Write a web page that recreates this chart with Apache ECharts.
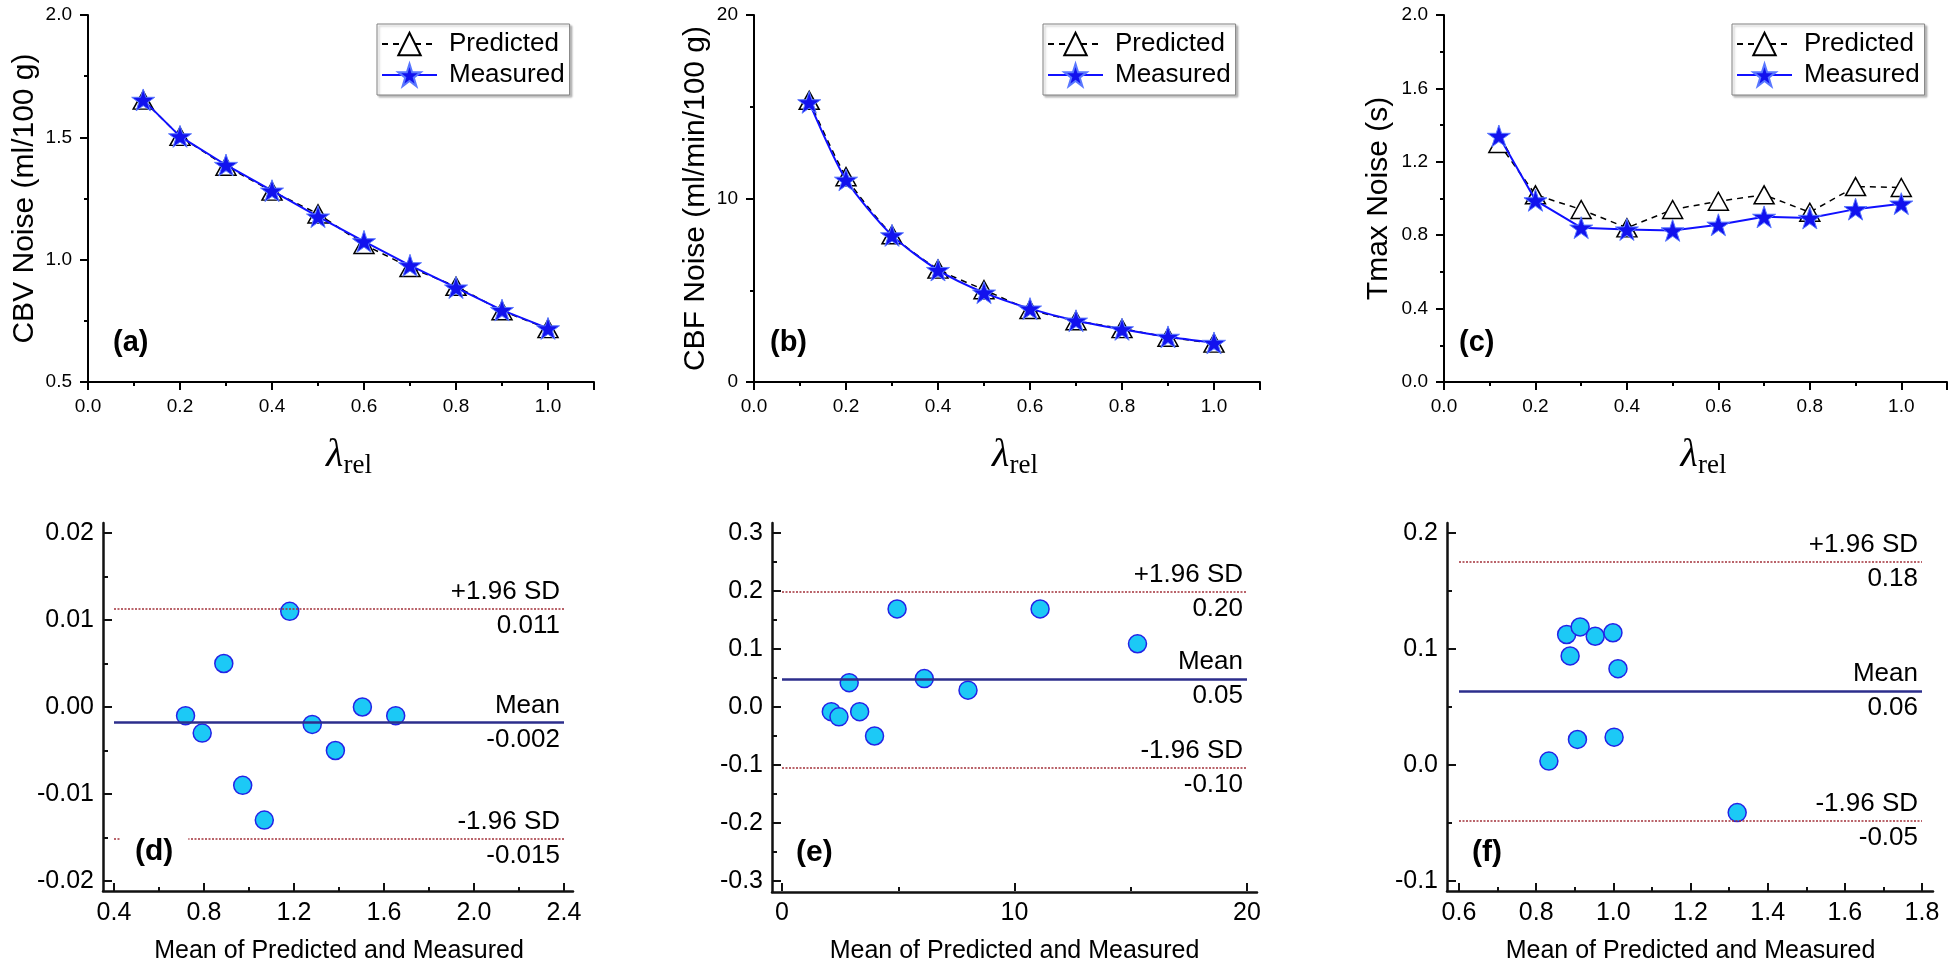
<!DOCTYPE html>
<html>
<head>
<meta charset="utf-8">
<title>Noise vs lambda_rel and Bland-Altman plots</title>
<script src="https://cdn.jsdelivr.net/npm/echarts@6.0.0/dist/echarts.min.js"></script>
<style>
  html, body { margin: 0; padding: 0; background: #fff; }
  #chart { width: 1950px; height: 969px; }
</style>
</head>
<body>
<div id="chart"></div>
<script>
/*--- data ---*/
var lambdaRel = [0.12, 0.2, 0.3, 0.4, 0.5, 0.6, 0.7, 0.8, 0.9, 1.0];

var cbvPredicted = [1.652, 1.504, 1.382, 1.280, 1.187, 1.062, 0.968, 0.891, 0.791, 0.718];
var cbvMeasured  = [1.653, 1.504, 1.387, 1.282, 1.176, 1.075, 0.977, 0.886, 0.794, 0.719];

var cbfPredicted = [15.35, 11.19, 8.02, 6.15, 5.03, 3.95, 3.34, 2.91, 2.44, 2.12];
var cbfMeasured  = [15.24, 11.02, 7.99, 6.10, 4.87, 4.00, 3.34, 2.87, 2.46, 2.13];

var tmaxPredicted = [1.30, 1.02, 0.94, 0.84, 0.94, 0.985, 1.02, 0.925, 1.065, 1.06];
var tmaxMeasured  = [1.341, 0.990, 0.841, 0.831, 0.826, 0.857, 0.900, 0.894, 0.942, 0.972];

// Bland-Altman: mean of predicted & measured vs difference
var cbvMean = [0.718, 0.792, 0.888, 0.972, 1.068, 1.181, 1.281, 1.384, 1.504, 1.652];
var cbvDiff = [-0.001, -0.003, 0.005, -0.009, -0.013, 0.011, -0.002, -0.005, 0.000, -0.001];
var cbvLimits = [0.0113, -0.0018, -0.0151];
var cbvLimitLabels = ['0.011', '-0.002', '-0.015'];

var cbfMean = [2.12, 2.45, 2.89, 3.34, 3.98, 4.95, 6.12, 8.0, 11.1, 15.29];
var cbfDiff = [-0.008, -0.017, 0.042, -0.008, -0.050, 0.169, 0.049, 0.029, 0.169, 0.109];
var cbfLimits = [0.198, 0.048, -0.1045];
var cbfLimitLabels = ['0.20', '0.05', '-0.10'];

var tmaxMean = [0.833, 0.879, 0.888, 0.907, 0.914, 0.953, 0.999, 1.002, 1.012, 1.321];
var tmaxDiff = [0.0034, 0.1125, 0.094, 0.022, 0.119, 0.111, 0.114, 0.024, 0.083, -0.041];
var tmaxLimits = [0.175, 0.064, -0.048];
var tmaxLimitLabels = ['0.18', '0.06', '-0.05'];

var limitNames = ['+1.96 SD', 'Mean', '-1.96 SD'];

/*--- styling ---*/
var font = 'Arial, "Liberation Sans", Helvetica, sans-serif';
var serif = '"Times New Roman", "Liberation Serif", serif';
var starPath = 'path://M50,0L61.2,34.5L97.6,34.5L68.2,55.9L79.4,90.5L50,69.1L20.6,90.5L31.8,55.9L2.4,34.5L38.8,34.5Z';

function pairs(xs, ys) {
	return xs.map(function (x, i) { return [x, ys[i]]; });
}
function fixed(d) {
	return function (v) { return v.toFixed(d); };
}

var topPanels = [
	{ left: 88, yMin: 0.5, yMax: 2.0, yStep: 0.5, digits: 1, yName: 'CBV Noise (ml/100 g)', nameGap: 48,
	  pred: cbvPredicted, meas: cbvMeasured, smooth: false, legendLeft: 377, tag: '(a)', tagLeft: 113 },
	{ left: 754, yMin: 0, yMax: 20, yStep: 10, digits: 0, yName: 'CBF Noise (ml/min/100 g)', nameGap: 43,
	  pred: cbfPredicted, meas: cbfMeasured, smooth: 0.25, legendLeft: 1043, tag: '(b)', tagLeft: 770 },
	{ left: 1444, yMin: 0, yMax: 2.0, yStep: 0.4, digits: 1, yName: 'Tmax Noise (s)', nameGap: 50,
	  pred: tmaxPredicted, meas: tmaxMeasured, smooth: false, legendLeft: 1732, tag: '(c)', tagLeft: 1459 }
];

var bottomPanels = [
	{ outer: [103, 523, 470, 368], inner: [114, 533, 450, 348], yOffset: 11,
	  xMin: 0.4, xMax: 2.4, xStep: 0.4, xDigits: 1, yMin: -0.02, yMax: 0.02, yStep: 0.01, yDigits: 2,
	  mean: cbvMean, diff: cbvDiff, limits: cbvLimits, labels: cbvLimitLabels,
	  tag: '(d)', tagPos: [120, 832], tagPad: [4, 15, 4, 15], tagBg: '#fff' },
	{ outer: [772, 523, 485, 369], inner: [782, 533, 465, 348], yOffset: 10,
	  xMin: 0, xMax: 20, xStep: 10, xDigits: 0, yMin: -0.3, yMax: 0.3, yStep: 0.1, yDigits: 1,
	  mean: cbfMean, diff: cbfDiff, limits: cbfLimits, labels: cbfLimitLabels,
	  tag: '(e)', tagPos: [796, 837], tagPad: 0, tagBg: 'transparent' },
	{ outer: [1447, 523, 486, 368], inner: [1459, 533, 463, 348], yOffset: 12,
	  xMin: 0.6, xMax: 1.8, xStep: 0.2, xDigits: 1, yMin: -0.1, yMax: 0.2, yStep: 0.1, yDigits: 1,
	  mean: tmaxMean, diff: tmaxDiff, limits: tmaxLimits, labels: tmaxLimitLabels,
	  tag: '(f)', tagPos: [1463, 833], tagPad: [4, 13, 4, 9], tagBg: '#fff' }
];

var grid = [], xAxis = [], yAxis = [], series = [], legend = [], title = [];
var black = '#000';

topPanels.forEach(function (p) {
	var g = grid.length;
	grid.push({ left: p.left, top: 15, width: 506, height: 367 });
	xAxis.push({
		gridIndex: g, type: 'value', min: 0, max: 1.1, interval: 0.2,
		axisLine: { show: true, onZero: false, lineStyle: { color: black, width: 2 } },
		axisTick: { show: true, inside: false, length: 8, lineStyle: { color: black, width: 2 } },
		minorTick: { show: true, splitNumber: 2, length: 4, lineStyle: { color: black, width: 2 } },
		splitLine: { show: false },
		axisLabel: { margin: 15, fontSize: 19, color: black, fontFamily: font,
			formatter: function (v) { return v > 1.05 ? '' : v.toFixed(1); } },
		name: '{l|λ}{s|rel}', nameLocation: 'middle', nameGap: 50,
		nameTextStyle: {
			padding: [0, 0, 0, 16],
			rich: {
				l: { fontFamily: serif, fontStyle: 'italic', fontSize: 40, color: black, lineHeight: 40 },
				s: { fontFamily: serif, fontSize: 27, color: black, padding: [20, 0, 0, 0] }
			}
		}
	});
	yAxis.push({
		gridIndex: g, type: 'value', min: p.yMin, max: p.yMax, interval: p.yStep,
		axisLine: { show: true, onZero: false, lineStyle: { color: black, width: 2 } },
		axisTick: { show: true, inside: false, length: 8, lineStyle: { color: black, width: 2 } },
		minorTick: { show: true, splitNumber: 2, length: 4, lineStyle: { color: black, width: 2 } },
		splitLine: { show: false },
		axisLabel: { margin: 16, fontSize: 19, color: black, fontFamily: font, formatter: fixed(p.digits) },
		name: p.yName, nameLocation: 'middle', nameGap: p.nameGap,
		nameTextStyle: { fontSize: 30, fontFamily: font, color: black }
	});
	series.push({
		type: 'line', name: 'Predicted', xAxisIndex: g, yAxisIndex: g,
		data: pairs(lambdaRel, p.pred), smooth: p.smooth,
		symbol: 'triangle', symbolSize: [20, 18],
		itemStyle: { color: '#fff', borderColor: black, borderWidth: 1.5 },
		lineStyle: { color: black, width: 1.5, type: [6, 5] },
		z: 2, animation: false
	});
	series.push({
		type: 'line', name: 'Measured', xAxisIndex: g, yAxisIndex: g,
		data: pairs(lambdaRel, p.meas), smooth: p.smooth,
		symbol: starPath, symbolSize: 23, symbolKeepAspect: true,
		itemStyle: { color: '#1212ee', borderColor: '#5a78ff', borderWidth: 1 },
		lineStyle: { color: '#1010ff', width: 2 },
		z: 3, animation: false
	});
	legend.push({
		left: p.legendLeft, top: 24, orient: 'vertical',
		data: ['Predicted', 'Measured'],
		itemWidth: 55, itemHeight: 28, itemGap: 5,
		padding: [7, 5, 7, 4],
		backgroundColor: '#fff', borderColor: '#808080', borderWidth: 1,
		shadowBlur: 2, shadowOffsetX: 2, shadowOffsetY: 2, shadowColor: 'rgba(0,0,0,0.25)',
		selectedMode: false,
		textStyle: { fontSize: 26, fontFamily: font, color: black, padding: [0, 0, 0, 7] }
	});
	title.push({
		text: p.tag, left: p.tagLeft, top: 327, padding: 0,
		textStyle: { fontSize: 29, fontWeight: 'bold', fontFamily: font, color: black, lineHeight: 32 }
	});
});

bottomPanels.forEach(function (p) {
	// outer frame: only the axis lines, drawn a little outside the data range
	var go = grid.length;
	grid.push({ left: p.outer[0], top: p.outer[1], width: p.outer[2], height: p.outer[3] });
	var frame = {
		gridIndex: go, type: 'value', min: 0, max: 1,
		axisLine: { show: true, onZero: false, lineStyle: { color: '#111', width: 2.5 } },
		axisTick: { show: false }, axisLabel: { show: false }, splitLine: { show: false }
	};
	xAxis.push(frame);
	yAxis.push(Object.assign({}, frame));

	// inner data grid
	var g = grid.length;
	grid.push({ left: p.inner[0], top: p.inner[1], width: p.inner[2], height: p.inner[3] });
	xAxis.push({
		gridIndex: g, type: 'value', min: p.xMin, max: p.xMax, interval: p.xStep, offset: 10,
		axisLine: { show: false, onZero: false },
		axisTick: { show: true, inside: true, length: 8, lineStyle: { color: '#111', width: 2 } },
		minorTick: { show: true, splitNumber: 2, length: 4, lineStyle: { color: '#111', width: 2 } },
		splitLine: { show: false },
		axisLabel: { margin: 10, fontSize: 25, color: black, fontFamily: font, formatter: fixed(p.xDigits) },
		name: 'Mean of Predicted and Measured', nameLocation: 'middle', nameGap: 48,
		nameTextStyle: { fontSize: 25, fontFamily: font, color: black }
	});
	yAxis.push({
		gridIndex: g, type: 'value', min: p.yMin, max: p.yMax, interval: p.yStep, offset: p.yOffset,
		axisLine: { show: false, onZero: false },
		axisTick: { show: true, inside: true, length: 9, lineStyle: { color: '#111', width: 2 } },
		minorTick: { show: true, splitNumber: 2, length: 5, lineStyle: { color: '#111', width: 2 } },
		splitLine: { show: false },
		axisLabel: { margin: 9, fontSize: 25, color: black, fontFamily: font, formatter: fixed(p.yDigits) }
	});

	var sdLine = { color: '#A2303A', width: 1.5, type: [2, 1.5] };
	var meanLine = { color: '#2C2E8C', width: 2.5, type: 'solid' };
	var hidden = { color: 'rgba(255,255,255,0)', width: 1 };
	var lines = [];
	p.limits.forEach(function (v, i) {
		lines.push({ yAxis: v, lineStyle: i === 1 ? meanLine : sdLine,
			label: { formatter: limitNames[i], position: 'insideEndTop' } });
		lines.push({ yAxis: v, lineStyle: hidden,
			label: { formatter: p.labels[i], position: 'insideEndBottom' } });
	});
	series.push({
		type: 'scatter', xAxisIndex: g, yAxisIndex: g,
		data: pairs(p.mean, p.diff),
		symbolSize: 18,
		itemStyle: { color: '#1CC9F6', borderColor: '#2323E6', borderWidth: 1.5, opacity: 1 },
		z: 3, animation: false,
		markLine: {
			silent: true, symbol: ['none', 'none'], animation: false, precision: 6,
			label: { fontSize: 26, fontFamily: font, color: black, distance: 4 },
			data: lines
		}
	});
	title.push({
		text: p.tag, left: p.tagPos[0], top: p.tagPos[1], padding: p.tagPad,
		backgroundColor: p.tagBg,
		textStyle: { fontSize: 30, fontWeight: 'bold', fontFamily: font, color: black, lineHeight: 32 }
	});
});

var dom = document.getElementById('chart');
var myChart = echarts.init(dom, null, { renderer: 'canvas' });
var option = {
	backgroundColor: '#fff',
	animation: false,
	title: title,
	legend: legend,
	grid: grid,
	xAxis: xAxis,
	yAxis: yAxis,
	series: series
};
myChart.setOption(option, true);

window.addEventListener('resize', function () {
	myChart.resize();
});
</script>
</body>
</html>
